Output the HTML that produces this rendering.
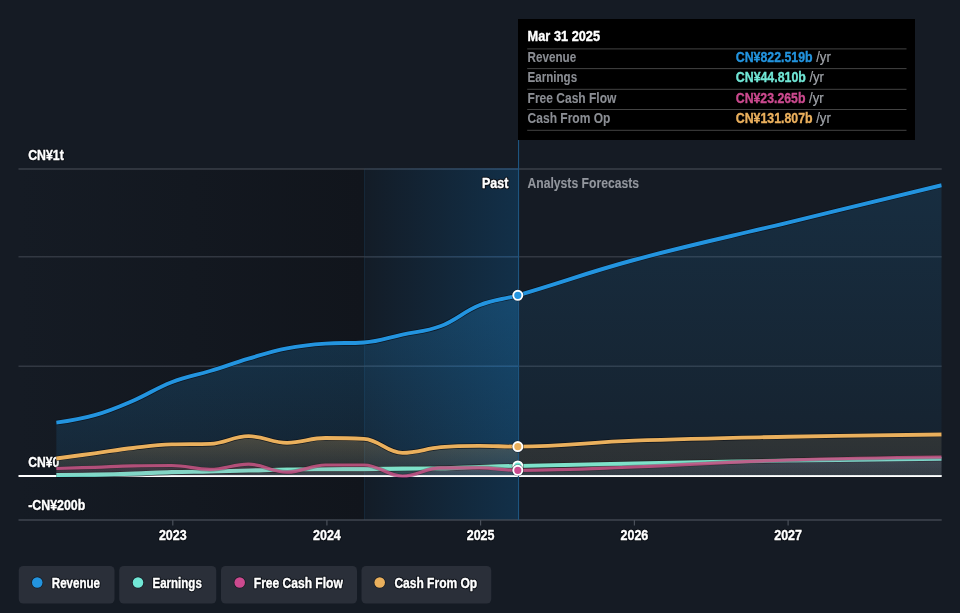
<!DOCTYPE html>
<html><head><meta charset="utf-8"><title>Earnings and Revenue Growth</title>
<style>
html,body{margin:0;padding:0;background:#151b24;width:960px;height:613px;overflow:hidden;font-family:"Liberation Sans",sans-serif;}
</style></head><body>
<svg width="960" height="613" viewBox="0 0 960 613" style="position:absolute;left:0;top:0;display:block;will-change:transform">
<defs>
<linearGradient id="gL" x1="0" y1="0" x2="1" y2="0"><stop offset="0" stop-color="#151b24"/><stop offset="1" stop-color="#11151c"/></linearGradient>
<linearGradient id="gP" x1="0" y1="0" x2="1" y2="0"><stop offset="0" stop-color="#131c27"/><stop offset="1" stop-color="#123049"/></linearGradient>
<clipPath id="cp"><rect x="56.2" y="150" width="885.5" height="380"/></clipPath>
</defs>
<rect x="0" y="0" width="960" height="613" fill="#151b24"/>
<rect x="18.5" y="169.0" width="346.0" height="351.0" fill="url(#gL)"/>
<rect x="364.5" y="169.0" width="154.0" height="351.0" fill="url(#gP)"/>
<rect x="364" y="169.0" width="1" height="351.0" fill="#1b4466" opacity="0.3"/>
<linearGradient id="gG" x1="0" y1="0" x2="1" y2="0"><stop offset="0" stop-color="#2c3846"/><stop offset="1" stop-color="#22507a"/></linearGradient>
<rect x="18.5" y="168.4" width="923.2" height="1.2" fill="#494e58" opacity="0.9"/>
<rect x="364.5" y="168.4" width="154" height="1.2" fill="url(#gG)"/>
<rect x="18.5" y="256.2" width="923.2" height="1.2" fill="#3e444f" opacity="0.9"/>
<rect x="364.5" y="256.2" width="154" height="1.2" fill="url(#gG)"/>
<rect x="18.5" y="365.59999999999997" width="923.2" height="1.2" fill="#3e444f" opacity="0.9"/>
<rect x="364.5" y="365.59999999999997" width="154" height="1.2" fill="url(#gG)"/>
<rect x="18.5" y="519.4" width="923.2" height="1.2" fill="#4a505a"/>
<rect x="172.20000000000002" y="520" width="1.2" height="5.5" fill="#4a505a"/>
<rect x="326.29999999999995" y="520" width="1.2" height="5.5" fill="#4a505a"/>
<rect x="480.0" y="520" width="1.2" height="5.5" fill="#4a505a"/>
<rect x="633.8" y="520" width="1.2" height="5.5" fill="#4a505a"/>
<rect x="787.5" y="520" width="1.2" height="5.5" fill="#4a505a"/>
<rect x="18.5" y="475" width="923.2" height="2" fill="#ffffff"/>
<g font-family="Liberation Sans, sans-serif">
<text x="28.2" y="159.6" font-size="14" font-weight="bold" text-anchor="start" textLength="35.6" lengthAdjust="spacingAndGlyphs" fill="#0c1017" stroke="#0c1017" stroke-width="2.6" stroke-linejoin="round">CN¥1t</text><text x="28.2" y="159.6" font-size="14" font-weight="bold" text-anchor="start" textLength="35.6" lengthAdjust="spacingAndGlyphs" fill="#ffffff" stroke="#ffffff" stroke-width="0.35">CN¥1t</text>
<text x="28.2" y="466.6" font-size="14" font-weight="bold" text-anchor="start" textLength="31" lengthAdjust="spacingAndGlyphs" fill="#0c1017" stroke="#0c1017" stroke-width="2.6" stroke-linejoin="round">CN¥0</text><text x="28.2" y="466.6" font-size="14" font-weight="bold" text-anchor="start" textLength="31" lengthAdjust="spacingAndGlyphs" fill="#ffffff" stroke="#ffffff" stroke-width="0.35">CN¥0</text>
<text x="28.2" y="510.3" font-size="14" font-weight="bold" text-anchor="start" textLength="57" lengthAdjust="spacingAndGlyphs" fill="#0c1017" stroke="#0c1017" stroke-width="2.6" stroke-linejoin="round">-CN¥200b</text><text x="28.2" y="510.3" font-size="14" font-weight="bold" text-anchor="start" textLength="57" lengthAdjust="spacingAndGlyphs" fill="#ffffff" stroke="#ffffff" stroke-width="0.35">-CN¥200b</text>
</g>
<clipPath id="cPast"><rect x="56.2" y="150" width="461.59999999999997" height="380"/></clipPath>
<clipPath id="cFut"><rect x="517.8" y="150" width="423.9000000000001" height="380"/></clipPath>
<linearGradient id="gp_rev" gradientUnits="userSpaceOnUse" x1="0" y1="295" x2="0" y2="476"><stop offset="0" stop-color="#2394df" stop-opacity="0.25"/><stop offset="1" stop-color="#2394df" stop-opacity="0.1"/></linearGradient>
<linearGradient id="gf_rev" gradientUnits="userSpaceOnUse" x1="0" y1="186" x2="0" y2="476"><stop offset="0" stop-color="#2394df" stop-opacity="0.15"/><stop offset="1" stop-color="#2394df" stop-opacity="0.055"/></linearGradient>
<path d="M56.20 422.68 C56.20 422.68 79.28 419.63 94.67 415.24 C110.06 410.85 117.75 407.32 133.14 400.73 C148.53 394.14 156.22 388.24 171.61 382.29 C187.00 376.35 194.69 375.73 210.08 371.01 C225.47 366.29 233.16 363.21 248.55 358.67 C263.94 354.14 271.63 351.37 287.02 348.36 C302.41 345.34 310.10 344.65 325.49 343.60 C340.88 342.54 348.57 343.60 363.96 342.54 C379.35 341.49 387.04 337.90 402.43 334.60 C417.82 331.29 425.51 331.91 440.90 326.04 C456.29 320.16 463.98 311.38 479.37 305.23 C494.74 299.07 502.43 299.76 517.80 295.26 C564.28 281.67 587.52 272.50 634.00 260.00 C695.60 243.43 726.40 237.57 788.00 222.60 C849.48 207.65 941.70 185.20 941.70 185.20 L941.70 476.00 L56.20 476.00 Z" fill="url(#gp_rev)" clip-path="url(#cPast)"/>
<path d="M56.20 422.68 C56.20 422.68 79.28 419.63 94.67 415.24 C110.06 410.85 117.75 407.32 133.14 400.73 C148.53 394.14 156.22 388.24 171.61 382.29 C187.00 376.35 194.69 375.73 210.08 371.01 C225.47 366.29 233.16 363.21 248.55 358.67 C263.94 354.14 271.63 351.37 287.02 348.36 C302.41 345.34 310.10 344.65 325.49 343.60 C340.88 342.54 348.57 343.60 363.96 342.54 C379.35 341.49 387.04 337.90 402.43 334.60 C417.82 331.29 425.51 331.91 440.90 326.04 C456.29 320.16 463.98 311.38 479.37 305.23 C494.74 299.07 502.43 299.76 517.80 295.26 C564.28 281.67 587.52 272.50 634.00 260.00 C695.60 243.43 726.40 237.57 788.00 222.60 C849.48 207.65 941.70 185.20 941.70 185.20 L941.70 476.00 L56.20 476.00 Z" fill="url(#gf_rev)" clip-path="url(#cFut)"/>
<g clip-path="url(#cp)"><path d="M56.20 422.68 C56.20 422.68 79.28 419.63 94.67 415.24 C110.06 410.85 117.75 407.32 133.14 400.73 C148.53 394.14 156.22 388.24 171.61 382.29 C187.00 376.35 194.69 375.73 210.08 371.01 C225.47 366.29 233.16 363.21 248.55 358.67 C263.94 354.14 271.63 351.37 287.02 348.36 C302.41 345.34 310.10 344.65 325.49 343.60 C340.88 342.54 348.57 343.60 363.96 342.54 C379.35 341.49 387.04 337.90 402.43 334.60 C417.82 331.29 425.51 331.91 440.90 326.04 C456.29 320.16 463.98 311.38 479.37 305.23 C494.74 299.07 502.43 299.76 517.80 295.26 C564.28 281.67 587.52 272.50 634.00 260.00 C695.60 243.43 726.40 237.57 788.00 222.60 C849.48 207.65 941.70 185.20 941.70 185.20" fill="none" stroke="#0a0e15" stroke-width="5.3" stroke-linejoin="round" stroke-opacity="0.75"/>
<path d="M56.20 422.68 C56.20 422.68 79.28 419.63 94.67 415.24 C110.06 410.85 117.75 407.32 133.14 400.73 C148.53 394.14 156.22 388.24 171.61 382.29 C187.00 376.35 194.69 375.73 210.08 371.01 C225.47 366.29 233.16 363.21 248.55 358.67 C263.94 354.14 271.63 351.37 287.02 348.36 C302.41 345.34 310.10 344.65 325.49 343.60 C340.88 342.54 348.57 343.60 363.96 342.54 C379.35 341.49 387.04 337.90 402.43 334.60 C417.82 331.29 425.51 331.91 440.90 326.04 C456.29 320.16 463.98 311.38 479.37 305.23 C494.74 299.07 502.43 299.76 517.80 295.26 C564.28 281.67 587.52 272.50 634.00 260.00 C695.60 243.43 726.40 237.57 788.00 222.60 C849.48 207.65 941.70 185.20 941.70 185.20" fill="none" stroke="#2394df" stroke-width="3.9" stroke-linejoin="round" stroke-opacity="1"/></g>
<linearGradient id="gp_earn" gradientUnits="userSpaceOnUse" x1="0" y1="466" x2="0" y2="476"><stop offset="0" stop-color="#71e7d6" stop-opacity="0.16"/><stop offset="1" stop-color="#71e7d6" stop-opacity="0.08"/></linearGradient>
<linearGradient id="gf_earn" gradientUnits="userSpaceOnUse" x1="0" y1="459" x2="0" y2="476"><stop offset="0" stop-color="#71e7d6" stop-opacity="0.07"/><stop offset="1" stop-color="#71e7d6" stop-opacity="0.05"/></linearGradient>
<path d="M56.20 475.01 C56.20 475.01 79.28 474.88 94.67 474.60 C110.06 474.32 117.75 474.12 133.14 473.63 C148.53 473.14 156.22 472.59 171.61 472.15 C187.00 471.71 194.69 471.75 210.08 471.42 C225.47 471.10 233.16 470.92 248.55 470.54 C263.94 470.15 271.63 469.77 287.02 469.50 C302.41 469.24 310.10 469.29 325.49 469.21 C340.88 469.13 348.57 469.21 363.96 469.11 C379.35 469.01 387.04 468.77 402.43 468.62 C417.82 468.47 425.51 468.62 440.90 468.36 C456.29 468.10 463.98 467.44 479.37 466.97 C494.74 466.49 502.43 466.29 517.80 465.96 C564.28 464.95 587.52 464.54 634.00 463.60 C695.60 462.36 726.40 461.46 788.00 460.50 C849.48 459.54 941.70 458.80 941.70 458.80 L941.70 476.00 L56.20 476.00 Z" fill="url(#gp_earn)" clip-path="url(#cPast)"/>
<path d="M56.20 475.01 C56.20 475.01 79.28 474.88 94.67 474.60 C110.06 474.32 117.75 474.12 133.14 473.63 C148.53 473.14 156.22 472.59 171.61 472.15 C187.00 471.71 194.69 471.75 210.08 471.42 C225.47 471.10 233.16 470.92 248.55 470.54 C263.94 470.15 271.63 469.77 287.02 469.50 C302.41 469.24 310.10 469.29 325.49 469.21 C340.88 469.13 348.57 469.21 363.96 469.11 C379.35 469.01 387.04 468.77 402.43 468.62 C417.82 468.47 425.51 468.62 440.90 468.36 C456.29 468.10 463.98 467.44 479.37 466.97 C494.74 466.49 502.43 466.29 517.80 465.96 C564.28 464.95 587.52 464.54 634.00 463.60 C695.60 462.36 726.40 461.46 788.00 460.50 C849.48 459.54 941.70 458.80 941.70 458.80 L941.70 476.00 L56.20 476.00 Z" fill="url(#gf_earn)" clip-path="url(#cFut)"/>
<g clip-path="url(#cp)"><path d="M56.20 475.01 C56.20 475.01 79.28 474.88 94.67 474.60 C110.06 474.32 117.75 474.12 133.14 473.63 C148.53 473.14 156.22 472.59 171.61 472.15 C187.00 471.71 194.69 471.75 210.08 471.42 C225.47 471.10 233.16 470.92 248.55 470.54 C263.94 470.15 271.63 469.77 287.02 469.50 C302.41 469.24 310.10 469.29 325.49 469.21 C340.88 469.13 348.57 469.21 363.96 469.11 C379.35 469.01 387.04 468.77 402.43 468.62 C417.82 468.47 425.51 468.62 440.90 468.36 C456.29 468.10 463.98 467.44 479.37 466.97 C494.74 466.49 502.43 466.29 517.80 465.96 C564.28 464.95 587.52 464.54 634.00 463.60 C695.60 462.36 726.40 461.46 788.00 460.50 C849.48 459.54 941.70 458.80 941.70 458.80" fill="none" stroke="#0a0e15" stroke-width="5.5" stroke-linejoin="round" stroke-opacity="0.75"/>
<path d="M56.20 475.01 C56.20 475.01 79.28 474.88 94.67 474.60 C110.06 474.32 117.75 474.12 133.14 473.63 C148.53 473.14 156.22 472.59 171.61 472.15 C187.00 471.71 194.69 471.75 210.08 471.42 C225.47 471.10 233.16 470.92 248.55 470.54 C263.94 470.15 271.63 469.77 287.02 469.50 C302.41 469.24 310.10 469.29 325.49 469.21 C340.88 469.13 348.57 469.21 363.96 469.11 C379.35 469.01 387.04 468.77 402.43 468.62 C417.82 468.47 425.51 468.62 440.90 468.36 C456.29 468.10 463.98 467.44 479.37 466.97 C494.74 466.49 502.43 466.29 517.80 465.96 C564.28 464.95 587.52 464.54 634.00 463.60 C695.60 462.36 726.40 461.46 788.00 460.50 C849.48 459.54 941.70 458.80 941.70 458.80" fill="none" stroke="#71e7d6" stroke-width="4.1" stroke-linejoin="round" stroke-opacity="1"/></g>
<linearGradient id="gp_fcf" gradientUnits="userSpaceOnUse" x1="0" y1="464" x2="0" y2="476"><stop offset="0" stop-color="#cc4a8f" stop-opacity="0.16"/><stop offset="1" stop-color="#cc4a8f" stop-opacity="0.06"/></linearGradient>
<linearGradient id="gf_fcf" gradientUnits="userSpaceOnUse" x1="0" y1="457" x2="0" y2="476"><stop offset="0" stop-color="#7f78d6" stop-opacity="0.15"/><stop offset="1" stop-color="#7f78d6" stop-opacity="0.07"/></linearGradient>
<path d="M56.20 468.50 C56.20 468.50 79.28 467.84 94.67 467.30 C110.06 466.76 117.75 466.10 133.14 465.80 C148.53 465.50 156.22 465.50 171.61 465.50 C187.00 465.50 194.69 469.40 210.08 469.40 C225.47 469.40 233.16 464.20 248.55 464.20 C263.94 464.20 271.63 472.20 287.02 472.20 C302.41 472.20 310.10 465.00 325.49 465.00 C340.88 465.00 348.57 465.00 363.96 465.00 C379.35 465.00 387.04 476.00 402.43 476.00 C417.82 476.00 425.51 467.80 440.90 467.80 C456.29 467.80 463.98 467.80 479.37 467.80 C494.74 467.80 502.43 470.30 517.80 470.30 C564.28 470.30 587.52 468.77 634.00 467.00 C695.60 464.65 726.40 462.00 788.00 460.00 C849.48 458.00 941.70 457.00 941.70 457.00 L941.70 476.00 L56.20 476.00 Z" fill="url(#gp_fcf)" clip-path="url(#cPast)"/>
<path d="M56.20 468.50 C56.20 468.50 79.28 467.84 94.67 467.30 C110.06 466.76 117.75 466.10 133.14 465.80 C148.53 465.50 156.22 465.50 171.61 465.50 C187.00 465.50 194.69 469.40 210.08 469.40 C225.47 469.40 233.16 464.20 248.55 464.20 C263.94 464.20 271.63 472.20 287.02 472.20 C302.41 472.20 310.10 465.00 325.49 465.00 C340.88 465.00 348.57 465.00 363.96 465.00 C379.35 465.00 387.04 476.00 402.43 476.00 C417.82 476.00 425.51 467.80 440.90 467.80 C456.29 467.80 463.98 467.80 479.37 467.80 C494.74 467.80 502.43 470.30 517.80 470.30 C564.28 470.30 587.52 468.77 634.00 467.00 C695.60 464.65 726.40 462.00 788.00 460.00 C849.48 458.00 941.70 457.00 941.70 457.00 L941.70 476.00 L56.20 476.00 Z" fill="url(#gf_fcf)" clip-path="url(#cFut)"/>
<g clip-path="url(#cp)"><path d="M56.20 468.50 C56.20 468.50 79.28 467.84 94.67 467.30 C110.06 466.76 117.75 466.10 133.14 465.80 C148.53 465.50 156.22 465.50 171.61 465.50 C187.00 465.50 194.69 469.40 210.08 469.40 C225.47 469.40 233.16 464.20 248.55 464.20 C263.94 464.20 271.63 472.20 287.02 472.20 C302.41 472.20 310.10 465.00 325.49 465.00 C340.88 465.00 348.57 465.00 363.96 465.00 C379.35 465.00 387.04 476.00 402.43 476.00 C417.82 476.00 425.51 467.80 440.90 467.80 C456.29 467.80 463.98 467.80 479.37 467.80 C494.74 467.80 502.43 470.30 517.80 470.30 C564.28 470.30 587.52 468.77 634.00 467.00 C695.60 464.65 726.40 462.00 788.00 460.00 C849.48 458.00 941.70 457.00 941.70 457.00" fill="none" stroke="#0a0e15" stroke-width="4.6" stroke-linejoin="round" stroke-opacity="0.3"/>
<path d="M56.20 468.50 C56.20 468.50 79.28 467.84 94.67 467.30 C110.06 466.76 117.75 466.10 133.14 465.80 C148.53 465.50 156.22 465.50 171.61 465.50 C187.00 465.50 194.69 469.40 210.08 469.40 C225.47 469.40 233.16 464.20 248.55 464.20 C263.94 464.20 271.63 472.20 287.02 472.20 C302.41 472.20 310.10 465.00 325.49 465.00 C340.88 465.00 348.57 465.00 363.96 465.00 C379.35 465.00 387.04 476.00 402.43 476.00 C417.82 476.00 425.51 467.80 440.90 467.80 C456.29 467.80 463.98 467.80 479.37 467.80 C494.74 467.80 502.43 470.30 517.80 470.30 C564.28 470.30 587.52 468.77 634.00 467.00 C695.60 464.65 726.40 462.00 788.00 460.00 C849.48 458.00 941.70 457.00 941.70 457.00" fill="none" stroke="#cc4a8f" stroke-width="3.2" stroke-linejoin="round" stroke-opacity="0.82"/></g>
<linearGradient id="gp_cfo" gradientUnits="userSpaceOnUse" x1="0" y1="436" x2="0" y2="476"><stop offset="0" stop-color="#eab05d" stop-opacity="0.25"/><stop offset="1" stop-color="#eab05d" stop-opacity="0.07"/></linearGradient>
<linearGradient id="gf_cfo" gradientUnits="userSpaceOnUse" x1="0" y1="434" x2="0" y2="476"><stop offset="0" stop-color="#eab05d" stop-opacity="0.12"/><stop offset="1" stop-color="#eab05d" stop-opacity="0.09"/></linearGradient>
<path d="M56.20 458.50 C56.20 458.50 79.28 455.40 94.67 453.30 C110.06 451.20 117.75 449.78 133.14 448.00 C148.53 446.22 156.22 444.90 171.61 444.40 C187.00 443.90 194.69 444.40 210.08 443.90 C225.47 443.40 233.16 436.20 248.55 436.20 C263.94 436.20 271.63 442.80 287.02 442.80 C302.41 442.80 310.10 438.00 325.49 438.00 C340.88 438.00 348.57 438.00 363.96 438.80 C379.35 439.60 387.04 452.80 402.43 452.80 C417.82 452.80 425.51 448.50 440.90 447.20 C456.29 445.90 463.98 445.90 479.37 445.90 C494.74 445.90 502.43 446.60 517.80 446.60 C564.28 446.60 587.52 442.29 634.00 440.60 C695.60 438.35 726.40 437.97 788.00 436.75 C849.48 435.53 941.70 434.50 941.70 434.50 L941.70 476.00 L56.20 476.00 Z" fill="url(#gp_cfo)" clip-path="url(#cPast)"/>
<path d="M56.20 458.50 C56.20 458.50 79.28 455.40 94.67 453.30 C110.06 451.20 117.75 449.78 133.14 448.00 C148.53 446.22 156.22 444.90 171.61 444.40 C187.00 443.90 194.69 444.40 210.08 443.90 C225.47 443.40 233.16 436.20 248.55 436.20 C263.94 436.20 271.63 442.80 287.02 442.80 C302.41 442.80 310.10 438.00 325.49 438.00 C340.88 438.00 348.57 438.00 363.96 438.80 C379.35 439.60 387.04 452.80 402.43 452.80 C417.82 452.80 425.51 448.50 440.90 447.20 C456.29 445.90 463.98 445.90 479.37 445.90 C494.74 445.90 502.43 446.60 517.80 446.60 C564.28 446.60 587.52 442.29 634.00 440.60 C695.60 438.35 726.40 437.97 788.00 436.75 C849.48 435.53 941.70 434.50 941.70 434.50 L941.70 476.00 L56.20 476.00 Z" fill="url(#gf_cfo)" clip-path="url(#cFut)"/>
<g clip-path="url(#cp)"><path d="M56.20 458.50 C56.20 458.50 79.28 455.40 94.67 453.30 C110.06 451.20 117.75 449.78 133.14 448.00 C148.53 446.22 156.22 444.90 171.61 444.40 C187.00 443.90 194.69 444.40 210.08 443.90 C225.47 443.40 233.16 436.20 248.55 436.20 C263.94 436.20 271.63 442.80 287.02 442.80 C302.41 442.80 310.10 438.00 325.49 438.00 C340.88 438.00 348.57 438.00 363.96 438.80 C379.35 439.60 387.04 452.80 402.43 452.80 C417.82 452.80 425.51 448.50 440.90 447.20 C456.29 445.90 463.98 445.90 479.37 445.90 C494.74 445.90 502.43 446.60 517.80 446.60 C564.28 446.60 587.52 442.29 634.00 440.60 C695.60 438.35 726.40 437.97 788.00 436.75 C849.48 435.53 941.70 434.50 941.70 434.50" fill="none" stroke="#0a0e15" stroke-width="5.199999999999999" stroke-linejoin="round" stroke-opacity="0.75"/>
<path d="M56.20 458.50 C56.20 458.50 79.28 455.40 94.67 453.30 C110.06 451.20 117.75 449.78 133.14 448.00 C148.53 446.22 156.22 444.90 171.61 444.40 C187.00 443.90 194.69 444.40 210.08 443.90 C225.47 443.40 233.16 436.20 248.55 436.20 C263.94 436.20 271.63 442.80 287.02 442.80 C302.41 442.80 310.10 438.00 325.49 438.00 C340.88 438.00 348.57 438.00 363.96 438.80 C379.35 439.60 387.04 452.80 402.43 452.80 C417.82 452.80 425.51 448.50 440.90 447.20 C456.29 445.90 463.98 445.90 479.37 445.90 C494.74 445.90 502.43 446.60 517.80 446.60 C564.28 446.60 587.52 442.29 634.00 440.60 C695.60 438.35 726.40 437.97 788.00 436.75 C849.48 435.53 941.70 434.50 941.70 434.50" fill="none" stroke="#eab05d" stroke-width="3.8" stroke-linejoin="round" stroke-opacity="1"/></g>
<rect x="518" y="140" width="1.1" height="380" fill="#1d5580"/>
<circle cx="517.8" cy="295.3" r="6.1" fill="#0b1622" fill-opacity="0.55"/>
<circle cx="517.8" cy="295.3" r="4.55" fill="#2394df" stroke="#ffffff" stroke-width="1.9"/>
<circle cx="517.8" cy="446.6" r="6.1" fill="#0b1622" fill-opacity="0.55"/>
<circle cx="517.8" cy="446.6" r="4.55" fill="#eab05d" stroke="#ffffff" stroke-width="1.9"/>
<circle cx="517.8" cy="466.0" r="6.1" fill="#0b1622" fill-opacity="0.55"/>
<circle cx="517.8" cy="466.0" r="4.55" fill="#71e7d6" stroke="#ffffff" stroke-width="1.9"/>
<circle cx="517.8" cy="470.3" r="6.1" fill="#0b1622" fill-opacity="0.55"/>
<circle cx="517.8" cy="470.3" r="4.55" fill="#cc4a8f" stroke="#ffffff" stroke-width="1.9"/>
<g font-family="Liberation Sans, sans-serif">
<text x="158.9" y="539.9" font-size="14" font-weight="bold" text-anchor="start" textLength="27.8" lengthAdjust="spacingAndGlyphs" fill="#0c1017" stroke="#0c1017" stroke-width="2.6" stroke-linejoin="round">2023</text><text x="158.9" y="539.9" font-size="14" font-weight="bold" text-anchor="start" textLength="27.8" lengthAdjust="spacingAndGlyphs" fill="#ffffff" stroke="#ffffff" stroke-width="0.35">2023</text>
<text x="313.0" y="539.9" font-size="14" font-weight="bold" text-anchor="start" textLength="27.8" lengthAdjust="spacingAndGlyphs" fill="#0c1017" stroke="#0c1017" stroke-width="2.6" stroke-linejoin="round">2024</text><text x="313.0" y="539.9" font-size="14" font-weight="bold" text-anchor="start" textLength="27.8" lengthAdjust="spacingAndGlyphs" fill="#ffffff" stroke="#ffffff" stroke-width="0.35">2024</text>
<text x="466.70000000000005" y="539.9" font-size="14" font-weight="bold" text-anchor="start" textLength="27.8" lengthAdjust="spacingAndGlyphs" fill="#0c1017" stroke="#0c1017" stroke-width="2.6" stroke-linejoin="round">2025</text><text x="466.70000000000005" y="539.9" font-size="14" font-weight="bold" text-anchor="start" textLength="27.8" lengthAdjust="spacingAndGlyphs" fill="#ffffff" stroke="#ffffff" stroke-width="0.35">2025</text>
<text x="620.5" y="539.9" font-size="14" font-weight="bold" text-anchor="start" textLength="27.8" lengthAdjust="spacingAndGlyphs" fill="#0c1017" stroke="#0c1017" stroke-width="2.6" stroke-linejoin="round">2026</text><text x="620.5" y="539.9" font-size="14" font-weight="bold" text-anchor="start" textLength="27.8" lengthAdjust="spacingAndGlyphs" fill="#ffffff" stroke="#ffffff" stroke-width="0.35">2026</text>
<text x="774.2" y="539.9" font-size="14" font-weight="bold" text-anchor="start" textLength="27.8" lengthAdjust="spacingAndGlyphs" fill="#0c1017" stroke="#0c1017" stroke-width="2.6" stroke-linejoin="round">2027</text><text x="774.2" y="539.9" font-size="14" font-weight="bold" text-anchor="start" textLength="27.8" lengthAdjust="spacingAndGlyphs" fill="#ffffff" stroke="#ffffff" stroke-width="0.35">2027</text>
<text x="481.9" y="187.6" font-size="14" font-weight="bold" text-anchor="start" textLength="26.4" lengthAdjust="spacingAndGlyphs" fill="#0c1017" stroke="#0c1017" stroke-width="2.6" stroke-linejoin="round">Past</text><text x="481.9" y="187.6" font-size="14" font-weight="bold" text-anchor="start" textLength="26.4" lengthAdjust="spacingAndGlyphs" fill="#ffffff" stroke="#ffffff" stroke-width="0.35">Past</text>
<text x="527.5" y="187.6" font-size="14" font-weight="bold" text-anchor="start" textLength="111.5" lengthAdjust="spacingAndGlyphs" fill="#93979e" stroke="#93979e" stroke-width="0.1">Analysts Forecasts</text>
</g>
<rect x="518" y="19" width="397" height="121" fill="#000000"/>
<rect x="527.2" y="48.4" width="379.3" height="1" fill="#434343"/>
<rect x="527.2" y="68.1" width="379.3" height="1" fill="#434343"/>
<rect x="527.2" y="88.8" width="379.3" height="1" fill="#434343"/>
<rect x="527.2" y="109.0" width="379.3" height="1" fill="#434343"/>
<rect x="527.2" y="129.8" width="379.3" height="1" fill="#434343"/>
<g font-family="Liberation Sans, sans-serif">
<text x="527.6" y="41.2" font-size="14" font-weight="bold" text-anchor="start" textLength="72.5" lengthAdjust="spacingAndGlyphs" fill="#ffffff" stroke="#ffffff" stroke-width="0.35">Mar 31 2025</text>
<text x="527.6" y="62.1" font-size="14" font-weight="bold" text-anchor="start" textLength="48.6" lengthAdjust="spacingAndGlyphs" fill="#8b8e94" stroke="#8b8e94" stroke-width="0.1">Revenue</text>
<text x="735.8" y="62.1" font-size="14" font-weight="bold" text-anchor="start" textLength="76.8" lengthAdjust="spacingAndGlyphs" fill="#2394df" stroke="#2394df" stroke-width="0.35">CN¥822.519b</text>
<text x="816.1999999999999" y="62.1" font-size="14" font-weight="normal" text-anchor="start" textLength="14.6" lengthAdjust="spacingAndGlyphs" fill="#a0a4aa" stroke="#a0a4aa" stroke-width="0.2">/yr</text>
<text x="527.6" y="82.4" font-size="14" font-weight="bold" text-anchor="start" textLength="49.5" lengthAdjust="spacingAndGlyphs" fill="#8b8e94" stroke="#8b8e94" stroke-width="0.1">Earnings</text>
<text x="735.8" y="82.4" font-size="14" font-weight="bold" text-anchor="start" textLength="70.0" lengthAdjust="spacingAndGlyphs" fill="#71e7d6" stroke="#71e7d6" stroke-width="0.35">CN¥44.810b</text>
<text x="809.4" y="82.4" font-size="14" font-weight="normal" text-anchor="start" textLength="14.6" lengthAdjust="spacingAndGlyphs" fill="#a0a4aa" stroke="#a0a4aa" stroke-width="0.2">/yr</text>
<text x="527.6" y="103.2" font-size="14" font-weight="bold" text-anchor="start" textLength="88.8" lengthAdjust="spacingAndGlyphs" fill="#8b8e94" stroke="#8b8e94" stroke-width="0.1">Free Cash Flow</text>
<text x="735.8" y="103.2" font-size="14" font-weight="bold" text-anchor="start" textLength="69.6" lengthAdjust="spacingAndGlyphs" fill="#cc4a8f" stroke="#cc4a8f" stroke-width="0.35">CN¥23.265b</text>
<text x="809.0" y="103.2" font-size="14" font-weight="normal" text-anchor="start" textLength="14.6" lengthAdjust="spacingAndGlyphs" fill="#a0a4aa" stroke="#a0a4aa" stroke-width="0.2">/yr</text>
<text x="527.6" y="123.3" font-size="14" font-weight="bold" text-anchor="start" textLength="82.8" lengthAdjust="spacingAndGlyphs" fill="#8b8e94" stroke="#8b8e94" stroke-width="0.1">Cash From Op</text>
<text x="735.8" y="123.3" font-size="14" font-weight="bold" text-anchor="start" textLength="76.8" lengthAdjust="spacingAndGlyphs" fill="#eab05d" stroke="#eab05d" stroke-width="0.35">CN¥131.807b</text>
<text x="816.1999999999999" y="123.3" font-size="14" font-weight="normal" text-anchor="start" textLength="14.6" lengthAdjust="spacingAndGlyphs" fill="#a0a4aa" stroke="#a0a4aa" stroke-width="0.2">/yr</text>
</g>
<g font-family="Liberation Sans, sans-serif">
<rect x="18.75" y="566" width="95.75" height="37.5" rx="4.5" fill="#2a2f39"/>
<circle cx="37.25" cy="582.5" r="5.3" fill="#2394df" stroke="#161b23" stroke-width="1.4" paint-order="stroke"/>
<text x="51.8" y="587.5" font-size="14" font-weight="bold" text-anchor="start" textLength="48.2" lengthAdjust="spacingAndGlyphs" fill="#0c1017" stroke="#0c1017" stroke-width="2.6" stroke-linejoin="round">Revenue</text><text x="51.8" y="587.5" font-size="14" font-weight="bold" text-anchor="start" textLength="48.2" lengthAdjust="spacingAndGlyphs" fill="#ffffff" stroke="#ffffff" stroke-width="0.35">Revenue</text>
<rect x="119.25" y="566" width="97.0" height="37.5" rx="4.5" fill="#2a2f39"/>
<circle cx="138.0" cy="582.5" r="5.3" fill="#71e7d6" stroke="#161b23" stroke-width="1.4" paint-order="stroke"/>
<text x="152.5" y="587.5" font-size="14" font-weight="bold" text-anchor="start" textLength="49.3" lengthAdjust="spacingAndGlyphs" fill="#0c1017" stroke="#0c1017" stroke-width="2.6" stroke-linejoin="round">Earnings</text><text x="152.5" y="587.5" font-size="14" font-weight="bold" text-anchor="start" textLength="49.3" lengthAdjust="spacingAndGlyphs" fill="#ffffff" stroke="#ffffff" stroke-width="0.35">Earnings</text>
<rect x="221.0" y="566" width="136.0" height="37.5" rx="4.5" fill="#2a2f39"/>
<circle cx="239.7" cy="582.5" r="5.3" fill="#cc4a8f" stroke="#161b23" stroke-width="1.4" paint-order="stroke"/>
<text x="253.8" y="587.5" font-size="14" font-weight="bold" text-anchor="start" textLength="89.0" lengthAdjust="spacingAndGlyphs" fill="#0c1017" stroke="#0c1017" stroke-width="2.6" stroke-linejoin="round">Free Cash Flow</text><text x="253.8" y="587.5" font-size="14" font-weight="bold" text-anchor="start" textLength="89.0" lengthAdjust="spacingAndGlyphs" fill="#ffffff" stroke="#ffffff" stroke-width="0.35">Free Cash Flow</text>
<rect x="361.5" y="566" width="129.75" height="37.5" rx="4.5" fill="#2a2f39"/>
<circle cx="379.7" cy="582.5" r="5.3" fill="#eab05d" stroke="#161b23" stroke-width="1.4" paint-order="stroke"/>
<text x="394.4" y="587.5" font-size="14" font-weight="bold" text-anchor="start" textLength="82.8" lengthAdjust="spacingAndGlyphs" fill="#0c1017" stroke="#0c1017" stroke-width="2.6" stroke-linejoin="round">Cash From Op</text><text x="394.4" y="587.5" font-size="14" font-weight="bold" text-anchor="start" textLength="82.8" lengthAdjust="spacingAndGlyphs" fill="#ffffff" stroke="#ffffff" stroke-width="0.35">Cash From Op</text>
</g>
</svg>
</body></html>
